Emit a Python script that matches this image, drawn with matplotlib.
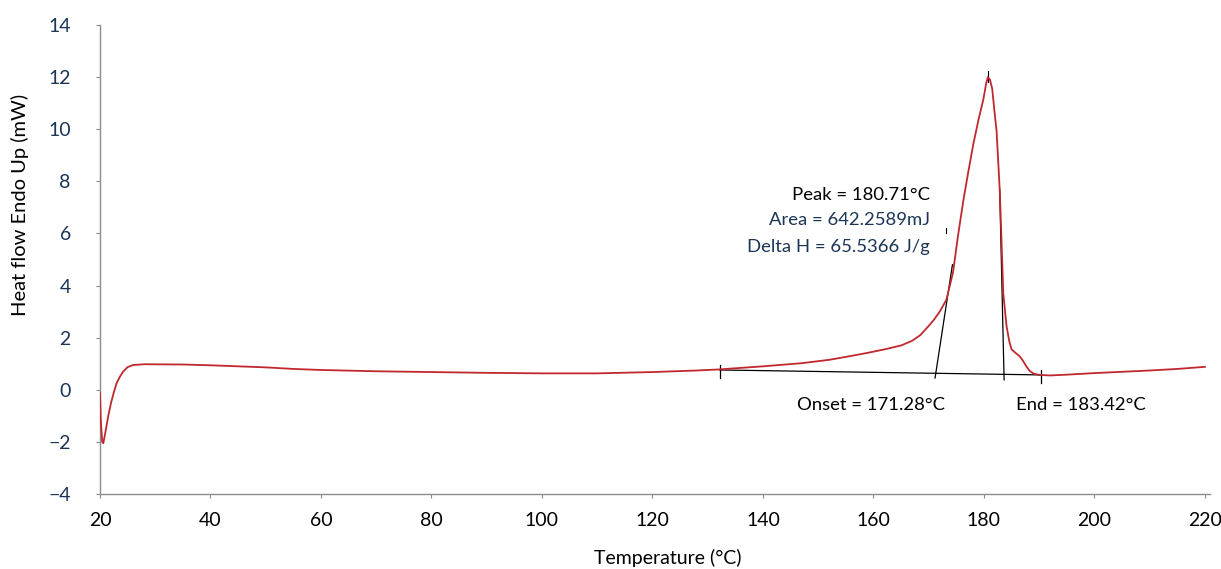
import matplotlib.pyplot as plt

plt.rcParams['font.family'] = ['Lato', 'DejaVu Sans']

# =========================
# DSC curve data
# =========================

temperature = [20.0, 20.15, 20.4, 20.6, 21.0, 21.5, 22.0, 22.5, 23.0, 23.6,
               24.2, 25.0, 26.0, 28.0, 35.0, 40.0, 45.0, 50.0, 55.0, 60.0,
               70.0, 80.0, 90.0, 100.0, 110.0, 120.0, 128.0, 132.0, 140.0, 147.0,
               152.0, 156.0, 159.0, 162.0, 165.0, 167.0, 168.5, 170.0, 171.0, 172.0,
               173.2, 174.4, 175.3, 176.3, 177.2, 178.1, 179.0, 179.9, 180.4, 180.71,
               181.1, 181.5, 181.9, 182.3, 182.9, 183.5, 184.1, 184.6, 185.0, 185.8,
               186.5, 187.1, 187.7, 188.3, 189.0, 190.0, 192.0, 195.0, 200.0, 205.0,
               210.0, 215.0, 220.0]

heat_flow = [-0.10, -1.20, -2.00, -2.05, -1.60, -1.00, -0.50, -0.10, 0.25, 0.50,
             0.70, 0.87, 0.95, 0.98, 0.97, 0.94, 0.90, 0.86, 0.80, 0.76,
             0.71, 0.68, 0.65, 0.63, 0.63, 0.68, 0.74, 0.78, 0.90, 1.02,
             1.15, 1.30, 1.42, 1.55, 1.70, 1.88, 2.10, 2.45, 2.70, 3.00,
             3.45, 4.50, 5.90, 7.30, 8.40, 9.45, 10.35, 11.15, 11.75, 12.00,
             11.90, 11.55, 10.70, 9.90, 7.50, 3.70, 2.43, 1.85, 1.55, 1.40,
             1.28, 1.10, 0.89, 0.72, 0.62, 0.57, 0.55, 0.58, 0.64, 0.69,
             0.74, 0.80, 0.88]

# Integration baseline and construction lines
baseline_t = [132.2, 190.4]
baseline_h = [0.76, 0.57]
onset_t = [171.15, 174.3]
onset_h = [0.45, 4.80]
end_t = [183.65, 182.85]
end_h = [0.38, 7.70]

peak_temp = 180.71
onset_temp = 171.28
end_temp = 183.42
area_mj = 642.2589
delta_h = 65.5366

x_ticks = [20, 40, 60, 80, 100, 120, 140, 160, 180, 200, 220]
y_ticks = [-4, -2, 0, 2, 4, 6, 8, 10, 12, 14]

navy = '#1b3556'
axis_grey = '#8c8c8c'

# =========================
# Plot
# =========================

fig = plt.figure(figsize=(12.21, 5.69), dpi=100)
ax = fig.add_axes([0.0819, 0.1318, 0.909, 0.8243])

ax.plot(temperature, heat_flow, color='#c0282e', lw=1.3, zorder=3)

# baseline with end marks
ax.plot(baseline_t, baseline_h, color='black', lw=0.9, zorder=2)
for t, h in zip(baseline_t, baseline_h):
    ax.plot([t, t], [h - 0.3, h + 0.2], color='black', lw=0.9)

# onset tangent and end line
ax.plot(onset_t, onset_h, color='black', lw=0.9, zorder=2)
ax.plot(end_t, end_h, color='black', lw=0.9, zorder=2)
ax.plot([173.2, 173.2], [6.0, 6.2], color='black', lw=0.8)
ax.plot([peak_temp, peak_temp], [11.8, 12.25], color='black', lw=0.8)

# annotations
ax.text(170.2, 7.48, f"Peak = {peak_temp:.2f}°C", ha='right', va='center',
        fontsize=13.3, color='black')
ax.text(170.2, 6.50, f"Area = {area_mj:.4f}mJ", ha='right', va='center',
        fontsize=13.3, color=navy)
ax.text(170.2, 5.48, f"Delta H = {delta_h:.4f} J/g", ha='right', va='center',
        fontsize=13.3, color=navy)
ax.text(146.2, -0.58, f"Onset = {onset_temp:.2f}°C", ha='left', va='center',
        fontsize=13.3, color='black')
ax.text(185.8, -0.58, f"End = {end_temp:.2f}°C", ha='left', va='center',
        fontsize=13.3, color='black')

ax.set_xlim(20, 220.9)
ax.set_ylim(-4, 14)
ax.set_xticks(x_ticks)
ax.set_yticks(y_ticks)
ax.set_yticklabels([str(v).replace('-', '\u2212') for v in y_ticks])

for side in ['top', 'right']:
    ax.spines[side].set_visible(False)
for side in ['left', 'bottom']:
    ax.spines[side].set_color(axis_grey)
    ax.spines[side].set_linewidth(1.0)

ax.tick_params(axis='y', length=3, width=0.8, color=axis_grey, pad=18,
               labelsize=14, labelcolor=navy)
ax.tick_params(axis='x', length=3, width=0.8, color=axis_grey, pad=10,
               labelsize=14, labelcolor='black')

fig.text(0.0164, 0.64, "Heat flow Endo Up (mW)", rotation=90,
         ha='center', va='center', fontsize=14.5, color='black')
fig.text(0.547, 0.019, "Temperature (°C)", ha='center', va='center',
         fontsize=14, color='black')

plt.savefig("out.png", dpi=100)
